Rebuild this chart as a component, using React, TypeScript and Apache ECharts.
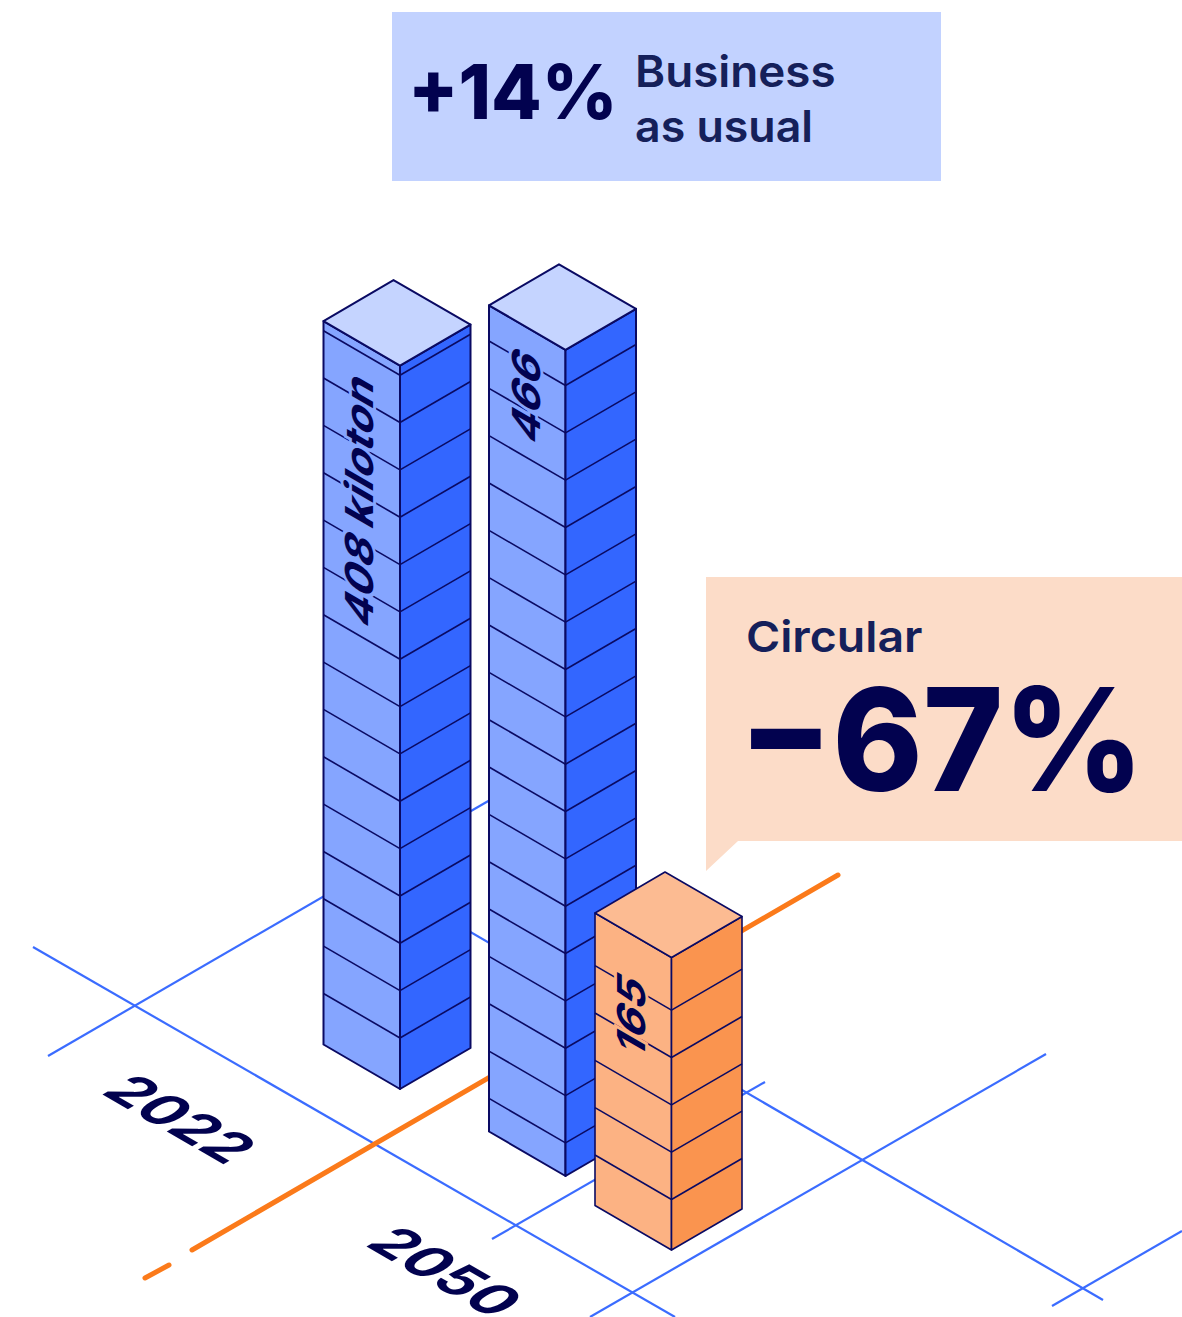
import React, { useEffect, useRef } from "react";
import * as echarts from "echarts";

// Scenario values, in kilotons
const scenarios = ["2022", "2050 business as usual", "2050 circular"];
const kilotons = [408, 466, 165];
const barLabels = ["408 kiloton", "466", "165"];
const kilotonsPerBlock = 26.7;
const yearLabels = ["2022", "2050"];
const businessChange = "+14%";
const businessTitle = ["Business", "as usual"];
const circularChange = "−67%";
const circularTitle = "Circular";

const WIDTH = 1182;
const HEIGHT = 1317;
const PX_PER_KILOTON = 1.773;
const AXIS_MAX = HEIGHT / PX_PER_KILOTON;
// Distance from the top of a text box to its baseline, per pixel of font size
const BASELINE_RATIO = 0.87;

const NAVY = "#02024f";
const INK = "#15205a";
const EDGE = "#0a0a63";
const GRID_BLUE = "#3b6cff";
const ORANGE_LINE = "#fb7a1a";

const BLUE_FACES = { top: "#c5d4ff", left: "#85a5ff", right: "#3366ff" };
const ORANGE_FACES = { top: "#fcbb92", left: "#fcb283", right: "#fa944f" };

// Where each block stands on the ground plane, and the first seam below its lid
const footprints = [
  { x: 400, y: 1089, firstSeam: 9.6, faces: BLUE_FACES, edge: 2, label: [373.5, 631] },
  { x: 565.5, y: 1176, firstSeam: 35.7, faces: BLUE_FACES, edge: 2, label: [540, 447] },
  { x: 671.5, y: 1250, firstSeam: 52.7, faces: ORANGE_FACES, edge: 1.6, label: [645, 1061] },
];
const LEFT = [-76.5, -44.5];
const RIGHT = [70.5, -41];
const BACK = [-6.5, -85.5];
const LABEL_SIZE = 44.5;

// Splits a 2x2 transform into rotate-scale-rotate so skewed text can be built from nested groups
function skewedText(
  m: [number, number, number, number],
  x: number,
  y: number,
  fontSize: number,
  style: Record<string, unknown>
) {
  const [a, b, c, d] = m;
  const E = (a + d) / 2;
  const F = (a - d) / 2;
  const G = (b + c) / 2;
  const H = (b - c) / 2;
  const Q = Math.hypot(E, H);
  const R = Math.hypot(F, G);
  const a1 = Math.atan2(G, F);
  const a2 = Math.atan2(H, E);
  const inner = (a2 - a1) / 2;
  const outer = (a2 + a1) / 2;
  return {
    type: "group",
    x,
    y,
    rotation: -outer,
    scaleX: Q + R,
    scaleY: Q - R,
    children: [
      {
        type: "text",
        rotation: -inner,
        style: {
          x: 0,
          y: -BASELINE_RATIO * fontSize,
          align: "left",
          verticalAlign: "top",
          ...style,
        },
      },
    ],
  };
}

const ON_LEFT_FACE: [number, number, number, number] = [0, -1, 0.866, 0.5];
const ON_GROUND: [number, number, number, number] = [0.866, 0.5, -0.866, 0.5];

function renderBlock(params: any, api: any) {
  const i = params.dataIndex;
  const f = footprints[i];
  const h = api.size([0, api.value(1)])[1];
  const step = api.size([0, kilotonsPerBlock])[1];
  const topY = f.y - h;
  const poly = (pts: number[][], fill: string) => ({
    type: "polygon",
    shape: { points: pts },
    style: { fill, stroke: EDGE, lineWidth: f.edge, lineJoin: "round" },
  });
  const seam = (x1: number, y1: number, x2: number, y2: number) => ({
    type: "line",
    shape: { x1, y1, x2, y2 },
    style: { stroke: EDGE, lineWidth: 1.6 },
  });

  const children: any[] = [
    poly(
      [
        [f.x + LEFT[0], topY + LEFT[1]],
        [f.x, topY],
        [f.x, f.y],
        [f.x + LEFT[0], f.y + LEFT[1]],
      ],
      f.faces.left
    ),
    poly(
      [
        [f.x + RIGHT[0], topY + RIGHT[1]],
        [f.x, topY],
        [f.x, f.y],
        [f.x + RIGHT[0], f.y + RIGHT[1]],
      ],
      f.faces.right
    ),
    poly(
      [
        [f.x, topY],
        [f.x + LEFT[0], topY + LEFT[1]],
        [f.x + BACK[0], topY + BACK[1]],
        [f.x + RIGHT[0], topY + RIGHT[1]],
      ],
      f.faces.top
    ),
  ];
  for (let y = topY + f.firstSeam; y < f.y - 4; y += step) {
    children.push(seam(f.x + LEFT[0], y + LEFT[1], f.x, y));
    children.push(seam(f.x, y, f.x + RIGHT[0], y + RIGHT[1]));
  }
  children.push(
    skewedText(ON_LEFT_FACE, f.label[0], f.label[1], LABEL_SIZE, {
      text: barLabels[i],
      font: `700 ${LABEL_SIZE}px Inter`,
      fill: NAVY,
      stroke: f.faces.left,
      lineWidth: 7,
    })
  );
  return { type: "group", children };
}

const gridLines = [
  [33, 947, 675, 1317],
  [48, 1056, 490, 800],
  [400, 891, 1103, 1300],
  [492, 1239, 765, 1082],
  [590, 1317, 1046, 1054],
  [1052, 1306, 1182, 1231],
];
const orangeSegments = [
  [145, 1278, 169, 1265],
  [192, 1250, 838, 875],
];

function backdrop() {
  const z = 1;
  const lines = gridLines.map(([x1, y1, x2, y2]) => ({
    type: "line",
    z,
    shape: { x1, y1, x2, y2 },
    style: { stroke: GRID_BLUE, lineWidth: 2.2 },
  }));
  const orange = orangeSegments.map(([x1, y1, x2, y2]) => ({
    type: "line",
    z,
    shape: { x1, y1, x2, y2 },
    style: { stroke: ORANGE_LINE, lineWidth: 5, lineCap: "round" },
  }));
  const year = (text: string, x: number, y: number) => ({
    ...skewedText(ON_GROUND, x, y, 57, {
      text,
      font: "700 57px Inter",
      fill: NAVY,
    }),
    z,
  });
  const flatText = (
    text: string,
    x: number,
    baseline: number,
    size: number,
    weight: number,
    fill: string,
    scaleX = 1
  ) => ({
    type: "text",
    z: 5,
    x,
    y: baseline,
    scaleX,
    style: {
      text,
      x: 0,
      y: -BASELINE_RATIO * size,
      font: `${weight} ${size}px Inter`,
      fill,
      align: "left",
      verticalAlign: "top",
    },
  });
  return [
    ...lines,
    ...orange,
    year(yearLabels[0], 99, 1093),
    year(yearLabels[1], 363, 1245),
    {
      type: "rect",
      z,
      shape: { x: 392, y: 12, width: 549, height: 169 },
      style: { fill: "#c2d2ff" },
    },
    {
      type: "polygon",
      z,
      shape: {
        points: [
          [706, 577],
          [1182, 577],
          [1182, 841],
          [738, 841],
          [706, 871],
        ],
      },
      style: { fill: "#fcdcc8" },
    },
    flatText(businessChange, 408, 119, 76, 800, NAVY, 0.97),
    flatText(businessTitle[0], 635, 88, 44, 600, INK, 1.04),
    flatText(businessTitle[1], 635, 142, 44, 600, INK, 1.015),
    flatText(circularTitle, 746, 653, 43, 600, INK, 1.08),
    flatText(circularChange, 739, 792, 143, 800, NAVY, 0.955),
  ];
}

export default function App() {
  const ref = useRef<HTMLDivElement>(null);
  useEffect(() => {
    const chart = echarts.init(ref.current!, undefined, { renderer: "svg" });
    chart.setOption({
      animation: false,
      backgroundColor: "#ffffff",
      grid: { left: 0, top: 0, width: WIDTH, height: HEIGHT },
      xAxis: { type: "category", data: scenarios, show: false },
      yAxis: { type: "value", min: 0, max: AXIS_MAX, show: false },
      graphic: { elements: backdrop() },
      series: [
        {
          type: "custom",
          z: 3,
          clip: false,
          encode: { x: 0, y: 1 },
          data: scenarios.map((s, i) => [s, kilotons[i]]),
          renderItem: renderBlock,
        },
      ],
    });
    return () => chart.dispose();
  }, []);
  return (
    <div
      ref={ref}
      style={{ position: "absolute", left: 0, top: 0, width: WIDTH, height: HEIGHT }}
    />
  );
}
